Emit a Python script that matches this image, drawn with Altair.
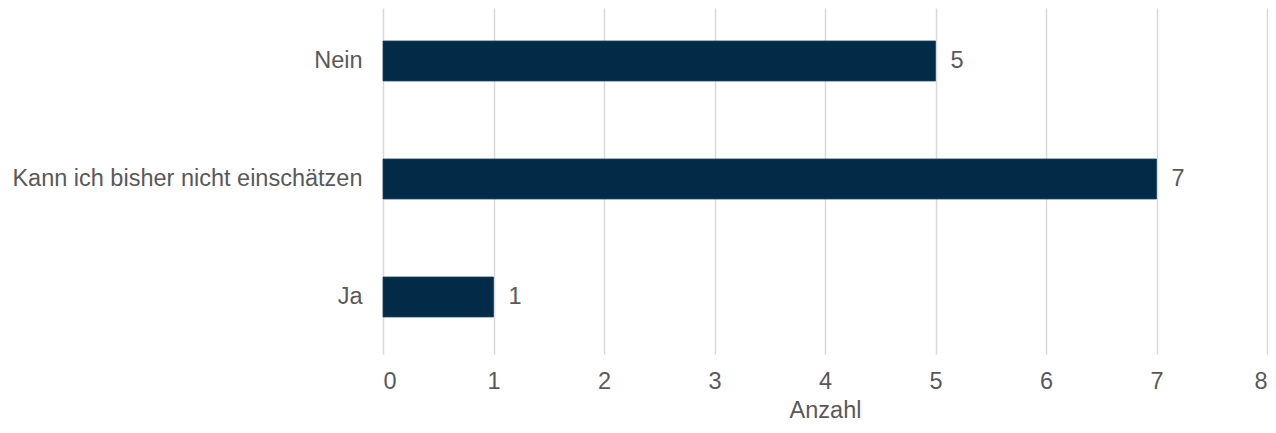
import altair as alt
import pandas as pd

categories = ["Nein", "Kann ich bisher nicht einschätzen", "Ja"]
counts = [5, 7, 1]

df = pd.DataFrame({"Antwort": categories, "Anzahl": counts})

FONT = "Liberation Sans"
GRAY = "#595959"
FS = 23.5

y_enc = alt.Y(
    "Antwort:N",
    sort=categories,
    scale=alt.Scale(paddingInner=0.661, paddingOuter=0.2966, align=0.471),
    axis=alt.Axis(title=None, domain=False, ticks=False, grid=False,
                  labelPadding=21, labelFontSize=FS, labelColor=GRAY,
                  labelFont=FONT, labelLimit=500),
)
x_enc = alt.X(
    "Anzahl:Q",
    scale=alt.Scale(domain=[0, 8], nice=False),
    axis=alt.Axis(values=list(range(0, 9)), format="d", title="Anzahl", domain=False, ticks=False,
                  grid=True, gridColor="#d9d9d9", gridWidth=1.5,
                  labelPadding=15, labelFontSize=FS, labelColor=GRAY, labelFont=FONT,
                  titleFontSize=FS, titleColor=GRAY, titleFont=FONT,
                  titleFontWeight="normal", titlePadding=6),
)

bars = alt.Chart(df).mark_bar(color="#022b47", stroke="#1d4563", strokeWidth=0.8).encode(
    y=y_enc, x=x_enc
)
labels = alt.Chart(df).mark_text(
    align="left", baseline="middle", dx=15, fontSize=FS, color=GRAY, font=FONT
).encode(y=alt.Y("Antwort:N", sort=categories), x="Anzahl:Q", text="Anzahl:Q")

chart = (bars + labels).properties(
    width=884, height=346,
    autosize=alt.AutoSizeParams(type="none"),
    padding={"left": 375, "top": 0, "right": 1, "bottom": 71},
).configure_view(stroke=None)

chart.save("out.html", embed_options={"renderer": "svg", "actions": False})
